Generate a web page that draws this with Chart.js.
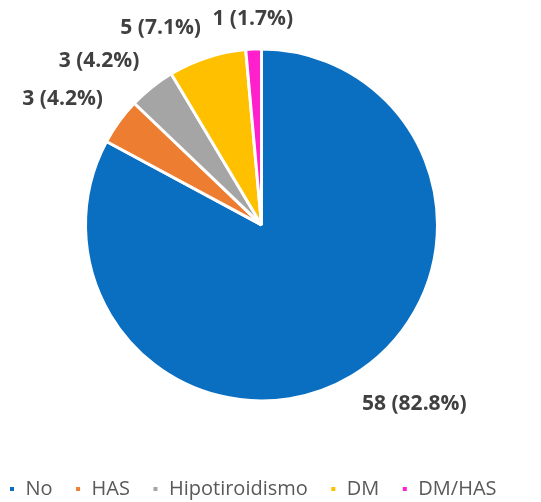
<!DOCTYPE html>
<html>
<head>
<meta charset="utf-8">
<script src="https://cdn.jsdelivr.net/npm/chart.js@4.4.0/dist/chart.umd.min.js"></script>
<style>
  html, body { margin: 0; padding: 0; background: #fff; }
  #wrap { width: 541px; height: 502px; }
</style>
</head>
<body>
<div id="wrap"><canvas id="myChart"></canvas></div>
<script>
const categories = ['No', 'HAS', 'Hipotiroidismo', 'DM', 'DM/HAS'];
const counts = [58, 3, 3, 5, 1];
const labelTexts = ['58 (82.8%)', '3 (4.2%)', '3 (4.2%)', '5 (7.1%)', '1 (1.7%)'];
const colors = ['#0A6EC1', '#ED7D31', '#A5A5A5', '#FFC000', '#FF1FCB'];

// etiquetas de datos por fuera del pastel
const outsideLabels = {
  id: 'outsideLabels',
  afterDatasetsDraw(chart) {
    const ctx = chart.ctx;
    const meta = chart.getDatasetMeta(0);
    ctx.save();
    ctx.font = 'bold 21px "Open Sans", sans-serif';
    ctx.fillStyle = '#404040';
    meta.data.forEach((arc, i) => {
      const p = arc.getProps(['x', 'y', 'startAngle', 'endAngle', 'outerRadius'], true);
      const mid = (p.startAngle + p.endAngle) / 2;
      const r = p.outerRadius + 20;
      const cx = Math.cos(mid), sy = Math.sin(mid);
      ctx.textAlign = cx < -0.15 ? 'right' : (cx > 0.15 ? 'left' : 'center');
      ctx.textBaseline = sy < 0 ? 'bottom' : 'top';
      ctx.fillText(labelTexts[i], p.x + cx * r, p.y + sy * r);
    });
    ctx.restore();
  }
};

const ctx = document.getElementById('myChart');

const config = {
  type: 'pie',
  data: {
    labels: categories,
    datasets: [{
      data: counts,
      backgroundColor: colors,
      borderColor: '#ffffff',
      borderWidth: 3,
      radius: 176,
    }]
  },
  options: {
    responsive: true,
    maintainAspectRatio: false,
    animation: false,
    layout: {
      padding: { top: 0, right: 18, bottom: -7, left: -18 }
    },
    plugins: {
      legend: {
        position: 'bottom',
        // titulo vacio: solo deja espacio entre el pastel y la leyenda
        title: {
          display: true,
          text: '',
          font: { size: 1 },
          padding: { top: 6, bottom: 0 }
        },
        labels: {
          boxWidth: 7,
          boxHeight: 7,
          padding: 22,
          color: '#595959',
          font: { family: '"Open Sans", sans-serif', size: 20 }
        }
      },
      tooltip: { enabled: false }
    }
  },
  plugins: [outsideLabels]
};

var myChart = new Chart(ctx, config);
</script>
</body>
</html>
